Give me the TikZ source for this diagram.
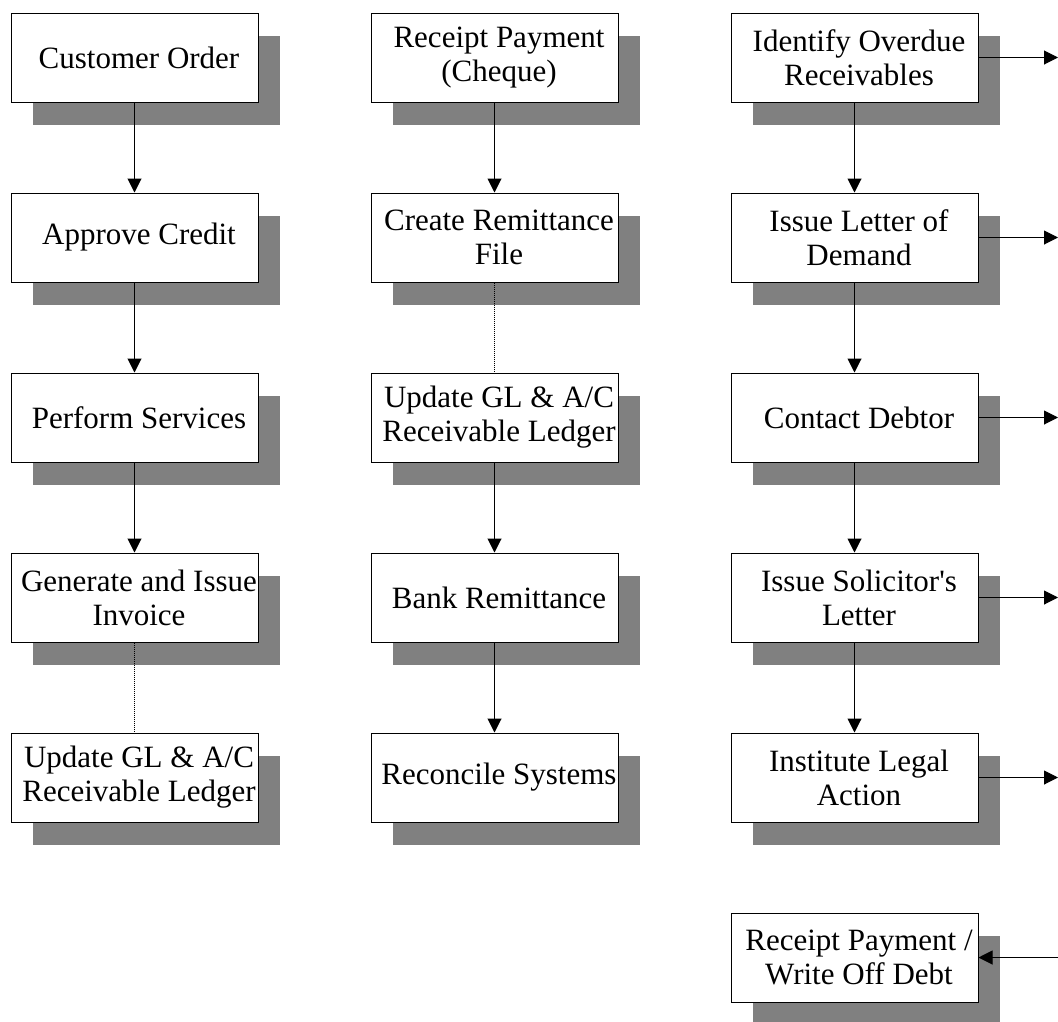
\documentclass[tikz,border=0pt]{standalone}
\usepackage{fontspec}
\setmainfont{Liberation Serif}[Ligatures=TeXOff]
\usetikzlibrary{arrows.meta,shadows}
\definecolor{shade}{RGB}{128,128,128}
\begin{document}
\begin{tikzpicture}[x=1pt,y=-1pt,
  box/.style={draw=black,line width=1pt,fill=white,minimum width=247pt,minimum height=89pt,inner sep=0pt,
    drop shadow={shadow xshift=22pt,shadow yshift=-23pt,fill=shade,opacity=1}},
  txt/.style={inner sep=0pt,align=center,font=\fontsize{31}{34}\selectfont},
  arr/.style={line width=1pt,-{Triangle[length=14pt,width=14pt]}},
  dot/.style={line width=0.7pt,dash pattern=on 1pt off 1pt}]
\useasboundingbox (0,0) rectangle (1058,1021);
% column 1
\node[box] (co) at (134.5,57.5) {};
\node[box] (ac) at (134.5,237.5) {};
\node[box] (ps) at (134.5,417.5) {};
\node[box] (gi) at (134.5,597.5) {};
\node[box] (u1) at (134.5,777.5) {};
% column 2
\node[box] (rp) at (494.5,57.5) {};
\node[box] (cr) at (494.5,237.5) {};
\node[box] (u2) at (494.5,417.5) {};
\node[box] (br) at (494.5,597.5) {};
\node[box] (rs) at (494.5,777.5) {};
% column 3
\node[box] (io) at (854.5,57.5) {};
\node[box] (il) at (854.5,237.5) {};
\node[box] (cd) at (854.5,417.5) {};
\node[box] (is) at (854.5,597.5) {};
\node[box] (la) at (854.5,777.5) {};
\node[box] (wo) at (854.5,957.5) {};
% texts
\node[txt] (co-t) at ([xshift=4.5pt]co.center) {Customer Order};
\node[txt] (ac-t) at ([xshift=4.5pt]ac.center) {Approve Credit};
\node[txt] (ps-t) at ([xshift=4.5pt]ps.center) {Perform Services};
\node[txt] (gi-t) at ([xshift=4.5pt]gi.center) {Generate and Issue\\Invoice};
\node[txt] (u1-t) at ([xshift=4.5pt]u1.center) {Update GL \& A/C\\Receivable Ledger};
\node[txt] (rp-t) at ([xshift=4.5pt]rp.center) {Receipt Payment\\(Cheque)};
\node[txt] (cr-t) at ([xshift=4.5pt]cr.center) {Create Remittance\\File};
\node[txt] (u2-t) at ([xshift=4.5pt]u2.center) {Update GL \& A/C\\Receivable Ledger};
\node[txt] (br-t) at ([xshift=4.5pt]br.center) {Bank Remittance};
\node[txt] (rs-t) at ([xshift=4.5pt]rs.center) {Reconcile Systems};
\node[txt] (io-t) at ([xshift=4.5pt]io.center) {Identify Overdue\\Receivables};
\node[txt] (il-t) at ([xshift=4.5pt]il.center) {Issue Letter of\\Demand};
\node[txt] (cd-t) at ([xshift=4.5pt]cd.center) {Contact Debtor};
\node[txt] (is-t) at ([xshift=4.5pt]is.center) {Issue Solicitor's\\Letter};
\node[txt] (la-t) at ([xshift=4.5pt]la.center) {Institute Legal\\Action};
\node[txt] (wo-t) at ([xshift=4.5pt]wo.center) {Receipt Payment /\\Write Off Debt};
% connectors column 1
\draw[arr] (co.south) -- (ac.north);
\draw[arr] (ac.south) -- (ps.north);
\draw[arr] (ps.south) -- (gi.north);
\draw[dot] (gi.south) -- (u1.north);
% column 2
\draw[arr] (rp.south) -- (cr.north);
\draw[dot] (cr.south) -- (u2.north);
\draw[arr] (u2.south) -- (br.north);
\draw[arr] (br.south) -- (rs.north);
% column 3
\draw[arr] (io.south) -- (il.north);
\draw[arr] (il.south) -- (cd.north);
\draw[arr] (cd.south) -- (is.north);
\draw[arr] (is.south) -- (la.north);
% right exits
\coordinate (e1) at (1058,57.5);
\coordinate (e2) at (1058,237.5);
\coordinate (e3) at (1058,417.5);
\coordinate (e4) at (1058,597.5);
\coordinate (e5) at (1058,777.5);
\coordinate (e6) at (1058,957.5);
\draw[arr] (io.east) -- (e1);
\draw[arr] (il.east) -- (e2);
\draw[arr] (cd.east) -- (e3);
\draw[arr] (is.east) -- (e4);
\draw[arr] (la.east) -- (e5);
\draw[arr] (e6) -- (wo.east);
\end{tikzpicture}
\end{document}
